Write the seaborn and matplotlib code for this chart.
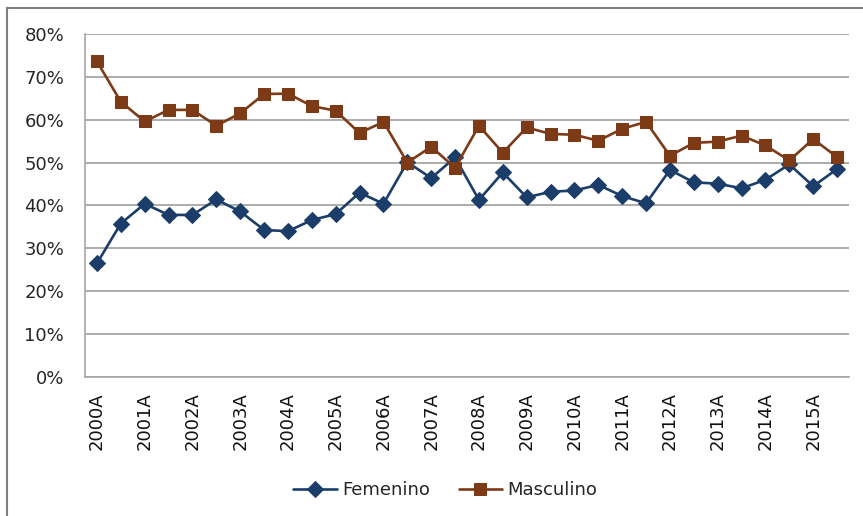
import matplotlib
matplotlib.use("Agg")
import matplotlib.pyplot as plt
import pandas as pd
import seaborn as sns
from matplotlib.patches import Rectangle
from matplotlib.ticker import FuncFormatter, MultipleLocator

# half-year periods, 2000A .. 2015B
periods = [f"{y}{h}" for y in range(2000, 2016) for h in ("A", "B")]

femenino = [26.5, 35.8, 40.4, 37.8, 37.8, 41.4, 38.6, 34.3, 34.0, 36.6,
            38.0, 43.0, 40.4, 50.1, 46.4, 51.2, 41.3, 47.7, 41.9, 43.2,
            43.5, 44.8, 42.2, 40.5, 48.3, 45.4, 45.1, 44.0, 46.0, 49.6,
            44.5, 48.5]
masculino = [73.6, 64.2, 59.6, 62.3, 62.3, 58.6, 61.5, 66.0, 66.1, 63.2,
             62.1, 56.9, 59.5, 50.0, 53.7, 48.8, 58.6, 52.3, 58.2, 56.7,
             56.5, 55.1, 57.9, 59.5, 51.6, 54.6, 54.9, 56.3, 54.0, 50.5,
             55.5, 51.3]

series = {"Femenino": femenino, "Masculino": masculino}
colors = {"Femenino": "#1b3d69", "Masculino": "#7d3a17"}
markers = {"Femenino": "D", "Masculino": "s"}
msizes = {"Femenino": 8.4, "Masculino": 9.0}

df = pd.DataFrame({"idx": range(len(periods)), "periodo": periods, **series})

sns.set_theme(style="white")
plt.rcParams["font.family"] = ["DejaVu Sans"]

fig = plt.figure(figsize=(8.63, 5.16), dpi=100)
ax = fig.add_axes([0.0985, 0.2694, 0.8853, 0.6647])

for name in series:
    sns.lineplot(data=df, x="idx", y=name, ax=ax, color=colors[name],
                 marker=markers[name], markersize=msizes[name],
                 markeredgecolor=colors[name], linewidth=1.9, label=name)

ax.set_xlim(-0.5, len(periods) - 0.5)
ax.set_ylim(0, 80)
ax.yaxis.set_major_locator(MultipleLocator(10))
ax.yaxis.set_major_formatter(FuncFormatter(lambda v, _: f"{v:.0f}%"))
ax.grid(axis="y", color="#a6a6a6", linewidth=1.3)
ax.set_axisbelow(True)

# labels on every other period, tick marks at category boundaries
ax.set_xticks(df["idx"][::2])
ax.set_xticklabels(df["periodo"][::2], rotation=90, fontsize=13, color="#111111")
ax.set_xticks([i - 0.5 for i in range(len(periods) + 1)], minor=True)
ax.tick_params(axis="x", which="major", length=0, pad=11)
ax.tick_params(axis="x", which="minor", length=7, color="#a6a6a6", width=1)
ax.tick_params(axis="y", length=7, color="#a6a6a6", width=1, labelsize=13,
               labelcolor="#262626", pad=8)
ax.set_xlabel("")
ax.set_ylabel("")

for side in ("top", "right"):
    ax.spines[side].set_visible(False)
for side in ("left", "bottom"):
    ax.spines[side].set_color("#a6a6a6")
    ax.spines[side].set_linewidth(1.2)

ax.legend(loc="center", bbox_to_anchor=(0.516, 0.05), bbox_transform=fig.transFigure,
          ncol=2, frameon=False, fontsize=13, handlelength=2.4, columnspacing=1.6,
          handletextpad=0.3)

# outer chart frame (left and top edges visible)
fig.patches.append(Rectangle((7 / 863, -0.1), 1.2, 1 - 8 / 516 + 0.1,
                             transform=fig.transFigure, fill=False,
                             edgecolor="#7f7f7f", linewidth=1.5))

fig.savefig("out.png", dpi=100)
